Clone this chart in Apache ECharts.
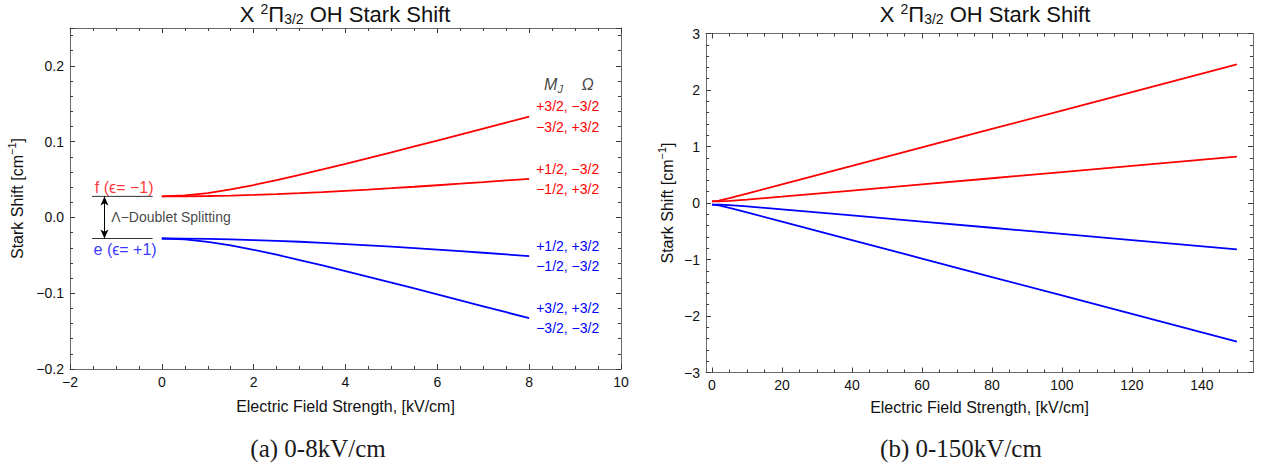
<!DOCTYPE html>
<html>
<head>
<meta charset="utf-8">
<script src="https://cdn.jsdelivr.net/npm/echarts@6/dist/echarts.min.js"></script>
<style>
  html, body { margin: 0; padding: 0; background: #ffffff; }
  #chart { width: 1265px; height: 467px; }
</style>
</head>
<body>
<div id="chart"></div>
<script>
// ---- Low-field panel (0–8 kV/cm) ----
const fieldLow = [0, 0.5, 1, 1.5, 2, 2.5, 3, 3.5, 4, 4.5, 5, 5.5, 6, 6.5, 7, 7.5, 8];
// f parity, |MJ| = 3/2
const fOuterLow = [0.0278, 0.0290, 0.0322, 0.0370, 0.0428, 0.0492, 0.0562, 0.0633, 0.0707,
                   0.0783, 0.0859, 0.0937, 0.1014, 0.1093, 0.1172, 0.1251, 0.1330];
// f parity, |MJ| = 1/2
const fInnerLow = [0.0278, 0.0279, 0.0283, 0.0289, 0.0298, 0.0309, 0.0321, 0.0335, 0.0351,
                   0.0368, 0.0386, 0.0405, 0.0425, 0.0445, 0.0466, 0.0488, 0.0510];
// e parity, |MJ| = 1/2
const eInnerLow = [-0.0278, -0.0279, -0.0283, -0.0289, -0.0298, -0.0309, -0.0321, -0.0335, -0.0351,
                   -0.0368, -0.0386, -0.0405, -0.0425, -0.0445, -0.0466, -0.0488, -0.0510];
// e parity, |MJ| = 3/2
const eOuterLow = [-0.0278, -0.0290, -0.0322, -0.0370, -0.0428, -0.0492, -0.0562, -0.0633, -0.0707,
                   -0.0783, -0.0859, -0.0937, -0.1014, -0.1093, -0.1172, -0.1251, -0.1330];
// half of the Λ-doublet splitting, cm^-1
const doubletHalf = 0.0278;

// ---- High-field panel (0–150 kV/cm) ----
const fieldHigh = [0, 2, 5, 10, 20, 40, 60, 80, 100, 120, 150];
const fOuterHigh = [0.028, 0.043, 0.086, 0.166, 0.329, 0.655, 0.983, 1.310, 1.637, 1.964, 2.455];
const fInnerHigh = [0.028, 0.030, 0.039, 0.061, 0.113, 0.220, 0.329, 0.438, 0.547, 0.657, 0.820];
const eInnerHigh = [-0.028, -0.030, -0.039, -0.061, -0.113, -0.220, -0.329, -0.438, -0.547, -0.657, -0.820];
const eOuterHigh = [-0.028, -0.043, -0.086, -0.166, -0.329, -0.655, -0.983, -1.310, -1.637, -1.964, -2.455];

// ---- Tick values and labels ----
const lowXTicks = [-2, 0, 2, 4, 6, 8, 10];
const lowXTickLabels = ['−2', '0', '2', '4', '6', '8', '10'];
const lowYTicks = [-0.2, -0.1, 0, 0.1, 0.2];
const lowYTickLabels = ['−0.2', '−0.1', '0.0', '0.1', '0.2'];
const highXTicks = [0, 20, 40, 60, 80, 100, 120, 140];
const highXTickLabels = ['0', '20', '40', '60', '80', '100', '120', '140'];
const highYTicks = [-3, -2, -1, 0, 1, 2, 3];
const highYTickLabels = ['−3', '−2', '−1', '0', '1', '2', '3'];

// (MJ, Ω) pairs for each level, top to bottom
const stateLabels = [
  '+3/2, −3/2\n−3/2, +3/2',
  '+1/2, −3/2\n−1/2, +3/2',
  '+1/2, +3/2\n−1/2, −3/2',
  '+3/2, +3/2\n−3/2, −3/2'
];

const RED = '#ff0000';
const BLUE = '#0000ff';
const FRAME = '#6a6a6a';
const TICK = '#3c3c3c';
const INK = '#111111';
const SANS = '"Liberation Sans", Arial, Helvetica, sans-serif';
const SERIF = '"Liberation Serif", "Times New Roman", serif';

function pairs(xs, ys) { return xs.map((x, i) => [x, ys[i]]); }

function lookupLabel(ticks, labels) {
  return function (v) {
    const i = ticks.findIndex(t => Math.abs(t - v) < 1e-9);
    return i >= 0 ? labels[i] : '';
  };
}

// One edge of a frame. o: position, min, max, interval, tick length (0 = none),
// line (draw the frame edge), labels (formatter), margin, name settings.
function edge(grid, o) {
  const ax = {
    type: 'value', gridIndex: grid, position: o.position,
    min: o.min, max: o.max,
    splitLine: { show: false },
    minorTick: { show: false },
    axisLine: { show: !!o.line, onZero: false, lineStyle: { color: FRAME, width: 1 } },
    axisTick: { show: !!o.tick, inside: true, length: o.tick || 0, lineStyle: { color: TICK, width: 1 } },
    axisLabel: { show: false }
  };
  if (o.interval) ax.interval = o.interval;
  if (o.labels) {
    ax.axisLabel = {
      show: true, color: INK, fontSize: 14, fontFamily: SANS, margin: o.margin || 6,
      showMinLabel: true, showMaxLabel: true, formatter: o.labels
    };
  }
  if (o.name) Object.assign(ax, o.name);
  return ax;
}

const xName = (gap) => ({
  name: 'Electric Field Strength, [kV/cm]', nameLocation: 'middle', nameGap: gap,
  nameTextStyle: { fontSize: 16, fontFamily: SANS, color: INK }
});
const yNameRich = {
  a: { fontSize: 16, fontFamily: SANS, color: INK, lineHeight: 22, verticalAlign: 'middle' },
  s: { fontSize: 11, fontFamily: SANS, color: INK, lineHeight: 22, verticalAlign: 'top' }
};
const yName = (gap) => ({
  name: '{a|Stark Shift [cm}{s|−1}{a|]}', nameLocation: 'middle', nameRotate: 90, nameGap: gap,
  nameTextStyle: { rich: yNameRich }
});

// plot rectangles
const LOW_LEFT = 70, LOW_TOP = 28, LOW_W = 551, LOW_H = 341;
const HIGH_LEFT = 706, HIGH_TOP = 33.5, HIGH_W = 547, HIGH_H = 339;
const HIGH_MIN = -1.7, HIGH_MAX = 154.6;
const pxPerKV = HIGH_W / (HIGH_MAX - HIGH_MIN);
const zeroPx = HIGH_LEFT + (0 - HIGH_MIN) * pxPerKV;

// grid 0: low-field frame; grid 1: high-field frame;
// grid 2: 0–140 kV/cm span of the high-field panel (labelled major ticks);
// grid 3: 0–150 kV/cm span of the high-field panel (minor ticks).
const MAJ = 5, MIN = 3;
const xAxes = [
  // low-field x: index 0..3
  edge(0, { position: 'bottom', min: -2, max: 10, interval: 2, tick: MAJ, line: true,
            labels: lookupLabel(lowXTicks, lowXTickLabels), margin: 6, name: xName(29) }),
  edge(0, { position: 'top', min: -2, max: 10, interval: 2, tick: MAJ, line: true }),
  edge(0, { position: 'bottom', min: -2, max: 10, interval: 0.5, tick: MIN }),
  edge(0, { position: 'top', min: -2, max: 10, interval: 0.5, tick: MIN }),
  // high-field frame x: index 4..5
  edge(1, { position: 'bottom', min: HIGH_MIN, max: HIGH_MAX, line: true, name: xName(27) }),
  edge(1, { position: 'top', min: HIGH_MIN, max: HIGH_MAX, line: true }),
  // high-field major ticks: index 6..7
  edge(2, { position: 'bottom', min: 0, max: 140, interval: 20, tick: MAJ,
            labels: lookupLabel(highXTicks, highXTickLabels), margin: 5 }),
  edge(2, { position: 'top', min: 0, max: 140, interval: 20, tick: MAJ }),
  // high-field minor ticks: index 8..9
  edge(3, { position: 'bottom', min: 0, max: 150, interval: 5, tick: MIN }),
  edge(3, { position: 'top', min: 0, max: 150, interval: 5, tick: MIN })
];

const yAxes = [
  // low-field y: index 0..3
  edge(0, { position: 'left', min: -0.2, max: 0.25, interval: 0.1, tick: MAJ, line: true,
            labels: lookupLabel(lowYTicks, lowYTickLabels), margin: 6, name: yName(42) }),
  edge(0, { position: 'right', min: -0.2, max: 0.25, interval: 0.1, tick: MAJ, line: true }),
  edge(0, { position: 'left', min: -0.2, max: 0.25, interval: 0.02, tick: MIN }),
  edge(0, { position: 'right', min: -0.2, max: 0.25, interval: 0.02, tick: MIN }),
  // high-field y: index 4..7
  edge(1, { position: 'left', min: -3, max: 3, interval: 1, tick: MAJ, line: true,
            labels: lookupLabel(highYTicks, highYTickLabels), margin: 6, name: yName(28) }),
  edge(1, { position: 'right', min: -3, max: 3, interval: 1, tick: MAJ, line: true }),
  edge(1, { position: 'left', min: -3, max: 3, interval: 0.2, tick: MIN }),
  edge(1, { position: 'right', min: -3, max: 3, interval: 0.2, tick: MIN }),
  // companions for the tick-only grids: index 8..9
  { type: 'value', gridIndex: 2, min: -3, max: 3, show: false },
  { type: 'value', gridIndex: 3, min: -3, max: 3, show: false }
];

function curve(xIdx, yIdx, xs, ys, color, endText) {
  const s = {
    type: 'line', xAxisIndex: xIdx, yAxisIndex: yIdx,
    data: pairs(xs, ys), showSymbol: false, symbol: 'none', smooth: false,
    lineStyle: { color: color, width: 1.8 }, itemStyle: { color: color },
    silent: true, z: 3
  };
  if (endText) {
    s.endLabel = {
      show: true, formatter: endText, color: color, fontSize: 14, fontFamily: SANS,
      lineHeight: 20.5, distance: 7, align: 'left'
    };
  }
  return s;
}

function textMark(x, y, text, color, position, extra) {
  return {
    value: [x, y],
    label: Object.assign({
      show: true, formatter: text, position: position, distance: 0,
      color: color, fontSize: 14, fontFamily: SANS
    }, extra || {})
  };
}

const labelRich = {
  m: { fontSize: 16, fontStyle: 'italic', fontFamily: SANS, color: INK, lineHeight: 20, verticalAlign: 'middle' },
  j: { fontSize: 11, fontStyle: 'italic', fontFamily: SANS, color: INK, lineHeight: 12, verticalAlign: 'bottom' }
};

const series = [
  curve(0, 0, fieldLow, fOuterLow, RED, stateLabels[0]),
  curve(0, 0, fieldLow, fInnerLow, RED, stateLabels[1]),
  curve(0, 0, fieldLow, eInnerLow, BLUE, stateLabels[2]),
  curve(0, 0, fieldLow, eOuterLow, BLUE, stateLabels[3]),
  // zero-field Λ-doublet levels
  {
    type: 'line', xAxisIndex: 0, yAxisIndex: 0, silent: true, symbol: 'none',
    data: [[-1.52, doubletHalf], [-0.2, doubletHalf]],
    lineStyle: { color: '#333333', width: 1 }
  },
  {
    type: 'line', xAxisIndex: 0, yAxisIndex: 0, silent: true, symbol: 'none',
    data: [[-1.52, -doubletHalf], [-0.2, -doubletHalf]],
    lineStyle: { color: '#333333', width: 1 }
  },
  // annotation texts and the splitting arrow
  {
    type: 'scatter', xAxisIndex: 0, yAxisIndex: 0, silent: true, symbolSize: 0, z: 5,
    data: [
      textMark(-0.82, 0.039, 'f (ϵ= −1)', RED, 'inside', { fontSize: 16 }),
      textMark(-0.80, -0.042, 'e (ϵ= +1)', BLUE, 'inside', { fontSize: 16 }),
      textMark(-1.10, 0.0, 'Λ−Doublet Splitting', INK, 'right'),
      textMark(8.53, 0.175, '{m|M}{j|J}', INK, 'inside', { rich: labelRich }),
      textMark(9.27, 0.175, '{m|Ω}', INK, 'inside', { rich: labelRich })
    ],
    markLine: {
      silent: true, symbol: ['arrow', 'arrow'], symbolSize: [6, 9],
      lineStyle: { color: '#000000', width: 1, type: 'solid' },
      label: { show: false },
      data: [[{ coord: [-1.25, doubletHalf] }, { coord: [-1.25, -doubletHalf] }]]
    }
  },
  curve(4, 4, fieldHigh, fOuterHigh, RED),
  curve(4, 4, fieldHigh, fInnerHigh, RED),
  curve(4, 4, fieldHigh, eInnerHigh, BLUE),
  curve(4, 4, fieldHigh, eOuterHigh, BLUE)
];

const titleRich = {
  b: { fontSize: 22, fontFamily: SANS, fill: INK, color: INK, lineHeight: 24, verticalAlign: 'middle' },
  sup: { fontSize: 14, fontFamily: SANS, fill: INK, color: INK, lineHeight: 14, verticalAlign: 'top' },
  sub: { fontSize: 14, fontFamily: SANS, fill: INK, color: INK, lineHeight: 12, verticalAlign: 'bottom' }
};
const titleText = '{b|X }{sup|2}{b|Π}{sub|3/2}{b| OH Stark Shift}';

const chart = echarts.init(document.getElementById('chart'), null, { renderer: 'svg' });
chart.setOption({
  animation: false,
  backgroundColor: '#ffffff',
  grid: [
    { left: LOW_LEFT, top: LOW_TOP, width: LOW_W, height: LOW_H, outerBoundsMode: 'none', containLabel: false },
    { left: HIGH_LEFT, top: HIGH_TOP, width: HIGH_W, height: HIGH_H, outerBoundsMode: 'none', containLabel: false },
    { left: zeroPx, top: HIGH_TOP, width: 140 * pxPerKV, height: HIGH_H, outerBoundsMode: 'none', containLabel: false },
    { left: zeroPx, top: HIGH_TOP, width: 150 * pxPerKV, height: HIGH_H, outerBoundsMode: 'none', containLabel: false }
  ],
  xAxis: xAxes,
  yAxis: yAxes,
  series: series,
  graphic: [
    { type: 'text', x: 345, y: 14, silent: true,
      style: { text: titleText, rich: titleRich, align: 'center', verticalAlign: 'middle' } },
    { type: 'text', x: 985, y: 14, silent: true,
      style: { text: titleText, rich: titleRich, align: 'center', verticalAlign: 'middle' } },
    { type: 'text', x: 318, y: 448, silent: true,
      style: { text: '(a) 0-8kV/cm', fontSize: 25, fontFamily: SERIF, fill: '#1a1a1a',
               align: 'center', verticalAlign: 'middle' } },
    { type: 'text', x: 961, y: 448, silent: true,
      style: { text: '(b) 0-150kV/cm', fontSize: 25, fontFamily: SERIF, fill: '#1a1a1a',
               align: 'center', verticalAlign: 'middle' } }
  ]
});
</script>
</body>
</html>
